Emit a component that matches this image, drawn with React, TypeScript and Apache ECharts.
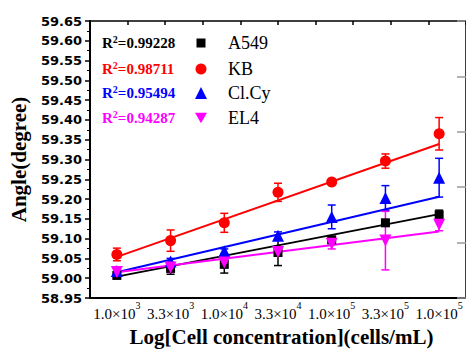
import React, { useEffect, useRef } from "react";
import * as echarts from "echarts";

const categories = ["1.0×10|3", "3.3×10|3", "1.0×10|4", "3.3×10|4", "1.0×10|5", "3.3×10|5", "1.0×10|5"];
const seriesNames = ["A549", "KB", "Cl.Cy", "EL4"];
const r2Labels = ["0.99228", "0.98711", "0.95494", "0.94287"];
const colors = ["#000000", "#ff0000", "#0000ff", "#ff00ff"];
const xAxisTitle = "Log[Cell concentration](cells/mL)";
const yAxisTitle = "Angle(degree)";

const a549 = [59.007, 59.025, 59.035, 59.065, 59.097, 59.14, 59.16];
const kb = [59.06, 59.095, 59.14, 59.217, 59.243, 59.296, 59.365];
const clcy = [59.018, 59.042, 59.068, 59.107, 59.155, 59.203, 59.254];
const el4 = [59.016, 59.027, 59.04, 59.066, 59.087, 59.095, 59.135];

const a549Err = [0.006, 0.015, 0.022, 0.033, 0.008, 0.008, 0.012];
const kbErr = [0.016, 0.027, 0.024, 0.023, 0.004, 0.018, 0.041];
const clcyErr = [0.008, 0.008, 0.006, 0.01, 0.03, 0.031, 0.049];
const el4Err = [0.008, 0.012, 0.01, 0.01, 0.013, 0.074, 0.015];

// fitted line end values (at first and last category)
const a549Fit = [59.004, 59.162];
const kbFit = [59.054, 59.339];
const clcyFit = [59.015, 59.206];
const el4Fit = [59.015, 59.118];

const yTicks = { min: 58.95, max: 59.65, interval: 0.05 };

const allValues = [a549, kb, clcy, el4];
const allErr = [a549Err, kbErr, clcyErr, el4Err];
const allFit = [a549Fit, kbFit, clcyFit, el4Fit];
const symbols = ["rect", "circle", "triangle", "path://M0,0L10,0L5,8.66Z"];
const symbolSizes = [9, 11, 12, 12];

export default function App() {
  const ref = useRef<HTMLDivElement>(null);
  useEffect(() => {
    if (!ref.current) return;
    const chart = echarts.init(ref.current, null, { renderer: "svg" });
    const serif = "Liberation Serif";
    const sans = "DejaVu Sans";
    const rowY = [43, 69, 93, 118];

    const series: any[] = [];
    allFit.forEach((f, k) => {
      series.push({
        type: "line",
        data: [[0, f[0]], [categories.length - 1, f[1]]],
        symbol: "none",
        lineStyle: { color: colors[k], width: 2 },
        z: 2,
        silent: true,
      });
    });
    allValues.forEach((vals, k) => {
      series.push({
        type: "custom",
        data: vals.map((v, i) => [i, v - allErr[k][i], v + allErr[k][i]]),
        encode: { x: 0, y: [1, 2] },
        z: 3,
        silent: true,
        renderItem: (params: any, api: any) => {
          const x = api.value(0);
          const p1 = api.coord([x, api.value(1)]);
          const p2 = api.coord([x, api.value(2)]);
          const w = 4;
          const st = { stroke: colors[k], lineWidth: 1.5 };
          return {
            type: "group",
            children: [
              { type: "line", shape: { x1: p1[0], y1: p1[1], x2: p2[0], y2: p2[1] }, style: st },
              { type: "line", shape: { x1: p1[0] - w, y1: p1[1], x2: p1[0] + w, y2: p1[1] }, style: st },
              { type: "line", shape: { x1: p2[0] - w, y1: p2[1], x2: p2[0] + w, y2: p2[1] }, style: st },
            ],
          };
        },
      });
    });
    allValues.forEach((vals, k) => {
      series.push({
        type: "scatter",
        name: seriesNames[k],
        data: vals.map((v, i) => [i, v]),
        symbol: symbols[k],
        symbolSize: symbolSizes[k],
        itemStyle: { color: colors[k], opacity: 1 },
        z: 4,
      });
    });

    const legends = seriesNames.map((n, k) => {
      const w = symbolSizes[k];
      return {
        data: [{ name: n, icon: symbols[k] }],
        left: 201 - w / 2,
        top: rowY[k] - 10,
        padding: 0,
        itemWidth: w,
        itemHeight: k === 3 ? w * 0.866 : w,
        selectedMode: false,
        textStyle: {
          fontFamily: serif,
          fontSize: 18,
          color: "#000",
          lineHeight: 20,
          padding: [0, 0, 0, 228 - (201 + w / 2 + 5)],
        },
      };
    });

    const graphics: any[] = r2Labels.map((r, k) => ({
      type: "text",
      left: 102,
      top: rowY[k] - 9,
      style: {
        text: `{b|R}{s|2}{b|=${r}}`,
        rich: {
          b: { fontFamily: serif, fontSize: 15, fontWeight: "bold", fill: colors[k], lineHeight: 18, verticalAlign: "middle" },
          s: { fontFamily: serif, fontSize: 10, fontWeight: "bold", fill: colors[k], verticalAlign: "top" },
        },
      },
    }));
    graphics.push({
      type: "text",
      x: 281.5,
      y: 337,
      style: {
        text: xAxisTitle,
        fontFamily: serif,
        fontSize: 21,
        fontWeight: "bold",
        fill: "#000",
        align: "center",
        verticalAlign: "middle",
      },
    });

    chart.setOption({
      animation: false,
      backgroundColor: "#fff",
      grid: { left: 90, top: 21, width: 383, height: 277, containLabel: false },
      legend: legends,
      graphic: graphics,
      xAxis: [
        {
          type: "category",
          data: categories,
          boundaryGap: true,
          position: "bottom",
          axisLine: { lineStyle: { color: "#000", width: 2 } },
          axisTick: { alignWithLabel: true, inside: false, length: 5, lineStyle: { color: "#000", width: 1.5 } },
          axisLabel: {
            interval: 0,
            hideOverlap: false,
            margin: 2,
            formatter: (v: string) => {
              const [a, s] = v.split("|");
              return `{a|${a}}{s|${s}}`;
            },
            rich: {
              a: { fontFamily: serif, fontSize: 15, color: "#000", lineHeight: 28, verticalAlign: "middle" },
              s: { fontFamily: serif, fontSize: 10, color: "#000", lineHeight: 10, verticalAlign: "top" },
            },
          },
          splitLine: { show: false },
        },
        {
          type: "value",
          position: "top",
          min: 0,
          max: 10,
          interval: 1,
          axisLine: { onZero: false, lineStyle: { color: "#000", width: 1.5 } },
          axisTick: { inside: true, length: 4, lineStyle: { color: "#000", width: 1.5 } },
          axisLabel: { show: false },
          splitLine: { show: false },
        },
      ],
      yAxis: [
        {
          type: "value",
          min: yTicks.min,
          max: yTicks.max,
          interval: yTicks.interval,
          axisLine: { show: true, lineStyle: { color: "#000", width: 2 } },
          axisTick: { show: true, inside: false, length: 5, lineStyle: { color: "#000", width: 1.5 } },
          minorTick: { show: true, splitNumber: 2, length: 3, lineStyle: { color: "#000", width: 1 } },
          axisLabel: {
            margin: 8,
            formatter: (v: number) => v.toFixed(2),
            fontFamily: sans,
            fontSize: 13,
            fontWeight: "bold",
            color: "#000",
          },
          splitLine: { show: false },
          name: yAxisTitle,
          nameLocation: "middle",
          nameGap: 58,
          nameRotate: 90,
          nameTextStyle: { fontFamily: serif, fontSize: 21, fontWeight: "bold", color: "#000" },
        },
        {
          type: "value",
          position: "right",
          min: 0,
          max: 5,
          interval: 1,
          axisLine: { show: true, onZero: false, lineStyle: { color: "#000", width: 1.5 } },
          axisTick: { show: true, inside: true, length: 9, lineStyle: { color: "#999", width: 1.5 } },
          axisLabel: { show: false },
          splitLine: { show: false },
        },
      ],
      series,
    });
    return () => chart.dispose();
  }, []);
  return (
    <div
      ref={ref}
      style={{ position: "fixed", left: 0, top: 0, width: 466, height: 350, background: "#fff" }}
    />
  );
}
